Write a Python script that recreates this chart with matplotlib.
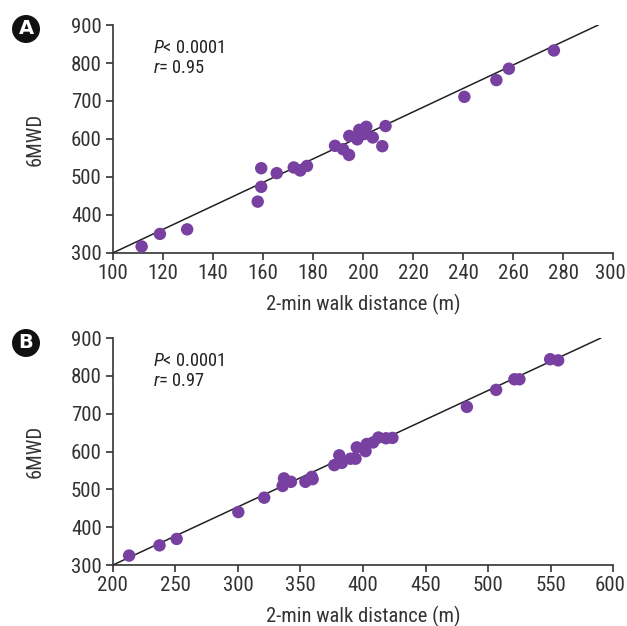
import numpy as np
import matplotlib
matplotlib.use("Agg")
import matplotlib.pyplot as plt
import matplotlib.transforms as mtransforms
from matplotlib.patches import Circle
from matplotlib import font_manager as fm

# Panel A data (2-min walk distance vs 6MWD)
a_x = [111.5, 118.8, 129.7, 157.9, 159.3, 159.3, 165.5, 172.3, 174.9, 177.6,
       188.8, 192.0, 194.4, 194.5, 197.7, 198.5, 200.5, 201.3, 203.9, 207.7,
       209.0, 240.5, 253.3, 258.3, 276.3]
a_y = [317, 350, 362, 435, 474, 523, 510, 525, 517, 529,
       582, 573, 558, 608, 599, 624, 613, 632, 604, 581,
       634, 711, 755, 785, 833]
a_fit = (-9.3, 3.093)      # intercept, slope
a_fit_range = (100, 294)

# Panel B data
b_x = [213.0, 237.3, 251.0, 300.3, 321.0, 335.7, 336.8, 342.4, 353.9, 359.0,
       359.7, 377.0, 381.0, 383.0, 390.0, 394.0, 395.0, 402.0, 403.0, 408.0,
       412.3, 418.4, 423.5, 483.0, 506.4, 521.0, 525.0, 549.6, 556.0]
b_y = [325, 352, 369, 440, 478, 509, 529, 520, 520, 533,
       527, 564, 590, 570, 581, 581, 611, 601, 620, 624,
       637, 635, 636, 718, 763, 791, 791, 844, 841]
b_fit = (-7.6, 1.538)
b_fit_range = (200, 590)

purple = '#7840a0'
dark = '#333333'

# pick a condensed font if one is around, else plain Liberation Sans
font_kw = {'family': 'Liberation Sans', 'stretch': 'normal'}
scale = 0.82 / 0.92
for fam, stretch, sc in [('Roboto Condensed', 'normal', 1.0),
                         ('Liberation Sans Narrow', 'normal', 1.08),
                         ('DejaVu Sans', 'condensed', 0.92)]:
    try:
        path = fm.findfont(fm.FontProperties(family=fam, stretch=stretch),
                           fallback_to_default=False)
    except Exception:
        continue
    if stretch == 'condensed' and 'Condensed' not in path:
        continue
    font_kw = {'family': fam, 'stretch': stretch}
    scale = sc
    break

plt.rcParams['font.family'] = [font_kw['family'], 'DejaVu Sans']
plt.rcParams['font.stretch'] = font_kw['stretch']
plt.rcParams['mathtext.fontset'] = 'custom'
plt.rcParams['mathtext.it'] = font_kw['family'] + ':italic'
plt.rcParams['mathtext.rm'] = font_kw['family']
tick_size = 15.0 * scale
label_size = 14.8 * scale
note_size = 13.2 * scale

fig = plt.figure(figsize=(6.27, 6.26), dpi=100)
ax_a = fig.add_axes([0.180, 0.596, 0.798, 0.364])
ax_b = fig.add_axes([0.180, 0.0974, 0.798, 0.3626])

panels = [
    (ax_a, a_x, a_y, a_fit, a_fit_range, (100, 300), np.arange(100, 301, 20), '0.95'),
    (ax_b, b_x, b_y, b_fit, b_fit_range, (200, 600), np.arange(200, 601, 50), '0.97'),
]

for ax, xs, ys, fit, frange, xlim, xticks, rval in panels:
    lx = np.array(frange)
    ax.plot(lx, fit[0] + fit[1] * lx, color='#222222', lw=1.1, zorder=2)
    ax.scatter(xs, ys, s=80, color=purple, edgecolors='none', zorder=3)
    ax.set_xlim(*xlim)
    ax.set_ylim(300, 900)
    ax.set_xticks(xticks)
    ax.set_yticks(np.arange(300, 901, 100))
    for s in ['top', 'right']:
        ax.spines[s].set_visible(False)
    for s in ['left', 'bottom']:
        ax.spines[s].set_color(dark)
        ax.spines[s].set_linewidth(1.2)
    ax.tick_params(direction='out', length=5, width=1.2, color=dark,
                   labelcolor=dark, labelsize=tick_size, pad=3)
    # nudge the last x label in a little so it stays on the canvas
    last = ax.get_xticklabels()[-1]
    last.set_transform(last.get_transform() +
                       mtransforms.ScaledTranslation(-3 / 100, 0, fig.dpi_scale_trans))
    ax.set_ylabel('6MWD', fontsize=label_size, color=dark, labelpad=19)
    ax.set_xlabel('2-min walk distance (m)', fontsize=label_size, color=dark, labelpad=8)
    ax.text(0.08, 0.94, r'$P$< 0.0001', transform=ax.transAxes, fontsize=note_size,
            color='#222222', va='top', ha='left')
    ax.text(0.08, 0.85, r'$r$= ' + rval, transform=ax.transAxes, fontsize=note_size,
            color='#222222', va='top', ha='left')

# Panel badges
for tag, cy in [('A', 29), ('B', 343)]:
    cx = 26
    fig.patches.append(Circle((cx, 626 - cy), 14, transform=None,
                              facecolor='#111111', edgecolor='none'))
    fig.text(cx / 627, 1 - cy / 626, tag, ha='center', va='center', color='white',
             fontsize=14, fontweight='bold', family='DejaVu Sans')

fig.savefig('out.png', dpi=100)
